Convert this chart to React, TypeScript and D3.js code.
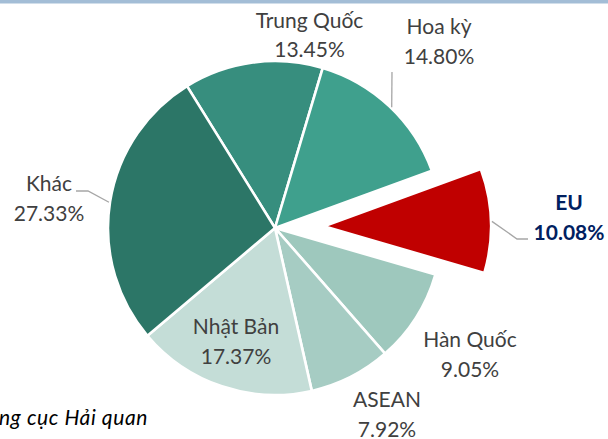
import React from "react";
import * as d3 from "d3";

// market shares (%), clockwise from the Trung Quốc slice
const categories = ["Trung Quốc", "Hoa kỳ", "EU", "Hàn Quốc", "ASEAN", "Nhật Bản", "Khác"];
const shares = [13.45, 14.8, 10.08, 9.05, 7.92, 17.37, 27.33];
const colors = ["#378e7e", "#3fa08d", "#c00000", "#9ec8bd", "#a6ccc3", "#c4ddd7", "#2c7667"];
const highlight = "EU";

// layout: label anchor (centre x, first baseline y)
const labelPos: Record<string, [number, number]> = {
  "Trung Quốc": [309.5, 27.5],
  "Hoa kỳ": [439, 34],
  EU: [569, 210],
  "Hàn Quốc": [470, 347],
  ASEAN: [387, 407],
  "Nhật Bản": [236, 334],
  Khác: [49, 191],
};
// leader lines: attach angle on the slice edge (deg) + elbow points toward label
const leaders: Record<string, { angle: number; pts: [number, number][] }> = {
  "Hoa kỳ": { angle: 44, pts: [[392, 72]] },
  EU: { angle: 88.3, pts: [[517, 239], [528, 239]] },
  Khác: { angle: 278.8, pts: [[88, 191], [76, 191]] },
};

const W = 608;
const H = 439;
const cx = 275;
const cy = 228;
const R = 167;
const explode = 49;
const startDeg = -31.8;

const App = () => {
  const rad = (d: number) => (d * Math.PI) / 180;
  const pie = d3
    .pie<number>()
    .sort(null)
    .value((d) => d)
    .startAngle(rad(startDeg))
    .endAngle(rad(startDeg + 360));
  const arcs = pie(shares);
  const arc = d3.arc<d3.PieArcDatum<number>>().innerRadius(0).outerRadius(R);
  const fmt = d3.format(".2f");
  const line = d3.line();

  const offsetOf = (i: number): [number, number] => {
    if (categories[i] !== highlight) return [0, 0];
    const a = (arcs[i].startAngle + arcs[i].endAngle) / 2;
    return [Math.sin(a) * explode, -Math.cos(a) * explode];
  };

  return (
    <svg
      width={W}
      height={H}
      style={{ position: "absolute", left: 0, top: 0, background: "#fff" }}
      fontFamily="Lato, 'Noto Sans', sans-serif"
    >
      <rect x={0} y={0} width={W} height={3.5} fill="#a3bdd6" />
      <g transform={`translate(${cx},${cy})`}>
        {arcs.map((d, i) => {
          const [ox, oy] = offsetOf(i);
          return (
            <path
              key={categories[i]}
              d={arc(d) || ""}
              transform={`translate(${ox},${oy})`}
              fill={colors[i]}
              stroke="#fff"
              strokeWidth={2.6}
              strokeLinejoin="round"
            />
          );
        })}
      </g>
      {categories.map((c, i) => {
        const ld = leaders[c];
        if (!ld) return null;
        const [ox, oy] = offsetOf(i);
        const a = rad(ld.angle);
        const start: [number, number] = [cx + ox + Math.sin(a) * (R + 1), cy + oy - Math.cos(a) * (R + 1)];
        return (
          <path
            key={"l" + c}
            d={line([start, ...ld.pts]) || ""}
            fill="none"
            stroke="#a6a6a6"
            strokeWidth={1.3}
          />
        );
      })}
      {categories.map((c, i) => {
        const [x, y] = labelPos[c];
        const hl = c === highlight;
        return (
          <text
            key={"t" + c}
            x={x}
            y={y}
            textAnchor="middle"
            fontSize={21}
            fontWeight={hl ? 700 : 400}
            fill={hl ? "#002060" : "#404040"}
          >
            <tspan x={x}>{c}</tspan>
            <tspan x={x} dy={29.5}>
              {fmt(shares[i])}%
            </tspan>
          </text>
        );
      })}
      {/* source note, cut at the left edge as in the original crop */}
      <text x={148} y={425} textAnchor="end" fontSize={21} letterSpacing={0.6} fontStyle="italic" fill="#000">
        Nguồn: Tổng cục Hải quan
      </text>
    </svg>
  );
};

export default App;
